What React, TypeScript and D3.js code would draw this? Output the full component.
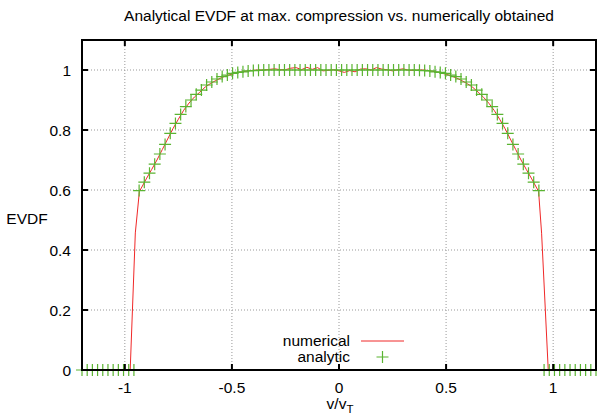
import React from "react";
import * as d3 from "d3";

// ---------- data ----------
const title = "Analytical EVDF at max. compression vs. numerically obtained";
const xTicks = [-1, -0.5, 0, 0.5, 1];
const xTickLabels = ["-1", "-0.5", "0", "0.5", "1"];
const yTicks = [0, 0.2, 0.4, 0.6, 0.8, 1];
const yTickLabels = ["0", "0.2", "0.4", "0.6", "0.8", "1"];

// analytic curve: 100 samples over [-1.2, 1.2]
const analyticY = [
  0, 0, 0, 0, 0, 0, 0, 0, 0, 0,
  0, 0.598, 0.626, 0.656, 0.686, 0.72, 0.752, 0.789, 0.822, 0.852,
  0.878, 0.9, 0.919, 0.933, 0.95, 0.96, 0.97, 0.978, 0.983, 0.989,
  0.992, 0.994, 0.997, 0.998, 0.999, 1, 1, 1, 1, 1,
  1, 1, 1, 1, 1, 1, 1, 1, 1, 1,
  1, 1, 1, 1, 1, 1, 1, 1, 1, 1,
  1, 1, 1, 1, 1, 0.999, 0.998, 0.997, 0.994, 0.992,
  0.989, 0.983, 0.978, 0.97, 0.96, 0.95, 0.933, 0.919, 0.9, 0.878,
  0.852, 0.822, 0.789, 0.752, 0.72, 0.686, 0.656, 0.626, 0.598, 0,
  0, 0, 0, 0, 0, 0, 0, 0, 0, 0,
];
const analyticX = analyticY.map((_, i) => -1.2 + (i * 2.4) / 99);

// numerical curve
const numericalX = [
  -1.2, -0.975, -0.951, -0.932, -0.9, -0.875, -0.85, -0.825, -0.8, -0.775,
  -0.75, -0.725, -0.7, -0.675, -0.65, -0.625, -0.6, -0.575, -0.55, -0.525,
  -0.5, -0.475, -0.45, -0.425, -0.4, -0.375, -0.35, -0.325, -0.3, -0.275,
  -0.25, -0.225, -0.2, -0.175, -0.15, -0.125, -0.1, -0.075, -0.05, -0.025,
  0, 0.025, 0.05, 0.075, 0.1, 0.125, 0.15, 0.175, 0.2, 0.225,
  0.25, 0.275, 0.3, 0.325, 0.35, 0.375, 0.4, 0.425, 0.45, 0.475,
  0.5, 0.525, 0.55, 0.575, 0.6, 0.625, 0.65, 0.675, 0.7, 0.725,
  0.75, 0.775, 0.8, 0.825, 0.85, 0.875, 0.9, 0.932, 0.946, 0.977, 1.2,
];
const numericalY = [
  0, 0, 0.457, 0.595, 0.637, 0.668, 0.7, 0.735, 0.77, 0.805,
  0.836, 0.866, 0.89, 0.91, 0.926, 0.943, 0.955, 0.965, 0.974, 0.981,
  0.986, 0.991, 0.994, 0.997, 0.999, 1.0, 1.0, 1.002, 1.004, 1.001,
  1.001, 1.006, 1.008, 1.001, 1.009, 1.002, 1.008, 0.997, 0.999, 1.001,
  0.997, 0.992, 0.998, 0.994, 1.003, 1.004, 1.0, 1.008, 1.003, 1.001,
  0.997, 1.001, 1.004, 0.999, 0.999, 1.0, 1.0, 0.997, 0.994, 0.99,
  0.986, 0.98, 0.973, 0.964, 0.954, 0.942, 0.926, 0.909, 0.889, 0.865,
  0.836, 0.805, 0.77, 0.735, 0.7, 0.668, 0.637, 0.595, 0.456, 0, 0,
];

// ---------- layout ----------
const W = 597;
const H = 419;
const L = 82;
const R = 596;
const T = 40;
const B = 370;
const FONT = "'Liberation Sans', Arial, Helvetica, sans-serif";
const FS = 15.5;
const RED = "#f02828";
const GREEN = "#5ab431";

export default function App() {
  const x = d3.scaleLinear().domain([-1.2, 1.2]).range([L, R]);
  const y = d3.scaleLinear().domain([0, 1.1]).range([B, T]);
  const line = d3
    .line<number>()
    .x((_, i) => x(numericalX[i]))
    .y((d) => y(d));
  const cs = 6;
  const cross = (cx: number, cy: number, key: string) => (
    <path
      key={key}
      d={`M${cx - cs},${cy}H${cx + cs}M${cx},${cy - cs}V${cy + cs}`}
      stroke={GREEN}
      strokeWidth={1.2}
      fill="none"
    />
  );
  return (
    <svg
      width={W}
      height={H}
      style={{ position: "absolute", left: 0, top: 0, background: "#fff" }}
      fontFamily={FONT}
    >
      <rect x={0} y={0} width={W} height={H} fill="#fff" />
      {/* grid */}
      {xTicks.map((t) => (
        <line key={"gx" + t} x1={x(t)} x2={x(t)} y1={T} y2={B} stroke="#999" strokeWidth={1} strokeDasharray="1,2" />
      ))}
      {yTicks.map((t) => (
        <line key={"gy" + t} x1={L} x2={R} y1={y(t)} y2={y(t)} stroke="#999" strokeWidth={1} strokeDasharray="1,2" />
      ))}
      {/* data */}
      <path d={line(numericalY) || ""} fill="none" stroke={RED} strokeWidth={1} />
      {analyticY.map((v, i) => cross(x(analyticX[i]), y(v), "a" + i))}
      {/* frame */}
      <rect x={L} y={T} width={R - L} height={B - T} fill="none" stroke="#000" strokeWidth={2} />
      {xTicks.map((t) => (
        <g key={"tx" + t}>
          <line x1={x(t)} x2={x(t)} y1={B} y2={B - 6} stroke="#000" strokeWidth={2} />
          <line x1={x(t)} x2={x(t)} y1={T} y2={T + 6} stroke="#000" strokeWidth={2} />
        </g>
      ))}
      {yTicks.map((t) => (
        <g key={"ty" + t}>
          <line x1={L} x2={L + 6} y1={y(t)} y2={y(t)} stroke="#000" strokeWidth={2} />
          <line x1={R} x2={R - 6} y1={y(t)} y2={y(t)} stroke="#000" strokeWidth={2} />
        </g>
      ))}
      {/* tick labels */}
      {xTicks.map((t, i) => (
        <text key={"lx" + t} x={x(t)} y={393} textAnchor="middle" fontSize={FS} fill="#000">
          {xTickLabels[i]}
        </text>
      ))}
      {yTicks.map((t, i) => (
        <text key={"ly" + t} x={71} y={y(t) + 5.5} textAnchor="end" fontSize={FS} fill="#000">
          {yTickLabels[i]}
        </text>
      ))}
      {/* title & axis labels */}
      <text x={339} y={21} textAnchor="middle" fontSize={FS} fill="#000">
        {title}
      </text>
      <text x={27} y={224} textAnchor="middle" fontSize={FS} fill="#000">
        EVDF
      </text>
      <text x={340} y={409} textAnchor="middle" fontSize={FS} fill="#000">
        v/v<tspan fontSize={11.5} dy={4}>T</tspan>
      </text>
      {/* legend */}
      <text x={350} y={346} textAnchor="end" fontSize={FS} fill="#000">
        numerical
      </text>
      <line x1={361} x2={404} y1={341} y2={341} stroke={RED} strokeWidth={1} />
      <text x={350} y={362} textAnchor="end" fontSize={FS} fill="#000">
        analytic
      </text>
      {cross(382.5, 357, "leg")}
    </svg>
  );
}
